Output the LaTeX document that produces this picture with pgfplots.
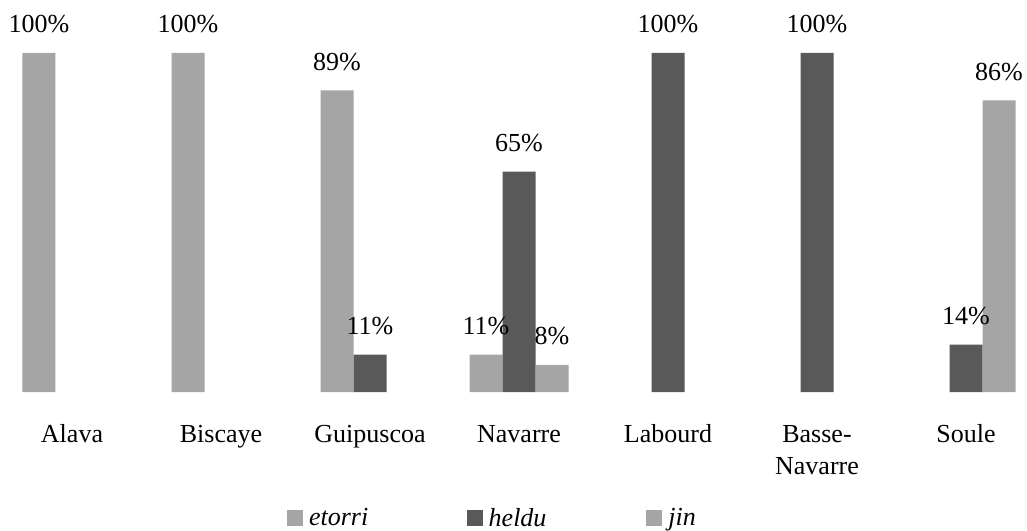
\documentclass[border=0pt]{standalone}
\usepackage{pgfplots}
\pgfplotsset{compat=1.18}
\usepackage{fontspec}
\setmainfont{Liberation Serif}
\definecolor{lightbar}{HTML}{A5A5A5}
\definecolor{darkbar}{HTML}{595959}
\begin{document}
\begin{tikzpicture}
\begin{axis}[
  at={(0,0)}, anchor=south west,
  scale only axis,
  width=770.25pt, height=254.25pt,
  xmin=-0.4832, xmax=6.4094,
  ymin=0, ymax=100,
  axis line style={draw=none},
  tick style={draw=none},
  clip=false,
  ybar, bar width=24.75pt,
  xtick={0,1,2,3,4,5,6},
  xticklabels={Alava,Biscaye,Guipuscoa,Navarre,Labourd,{\begin{tabular}[t]{@{}c@{}}Basse-\\Navarre\end{tabular}},Soule},
  xticklabel style={anchor=base, yshift=-37.5pt, inner sep=0pt,
    font=\fontsize{19.5}{24.25}\selectfont},
  major tick length=0pt,
  ytick=\empty,
  nodes near coords={\pgfmathprintnumber[assume math mode=true]{\pgfplotspointmeta}\%},
  every node near coord/.append style={anchor=base, inner sep=0pt, yshift=15pt,
    font=\fontsize{19.5}{23}\selectfont, text=black},
  legend columns=3,
  legend image code/.code={\path[#1] (0pt,-6pt) rectangle (12pt,6pt);},
  legend style={draw=none, fill=none, at={(0.2795,-0.372)}, anchor=west,
    inner sep=0pt, outer sep=0pt,
    font=\fontsize{19.5}{23}\selectfont\itshape,
    nodes={inner sep=0pt, text width=118.25pt, align=left},
    /tikz/every odd column/.append style={column sep=4.5pt},
  },
]
\addplot[fill=lightbar, draw=none, bar shift=-24.75pt] coordinates {(0,100) (1,100) (2,89) (3,11)};
\addlegendentry{etorri}
\addplot[fill=darkbar, draw=none, bar shift=0pt] coordinates {(2,11) (3,65) (4,100) (5,100) (6,14)};
\addlegendentry{heldu}
\addplot[fill=lightbar, draw=none, bar shift=24.75pt] coordinates {(3,8) (6,86)};
\addlegendentry{jin}
\end{axis}
\pgfresetboundingbox
\path[use as bounding box] (0pt,-104.25pt) rectangle (770.25pt,294pt);
\end{tikzpicture}
\end{document}
